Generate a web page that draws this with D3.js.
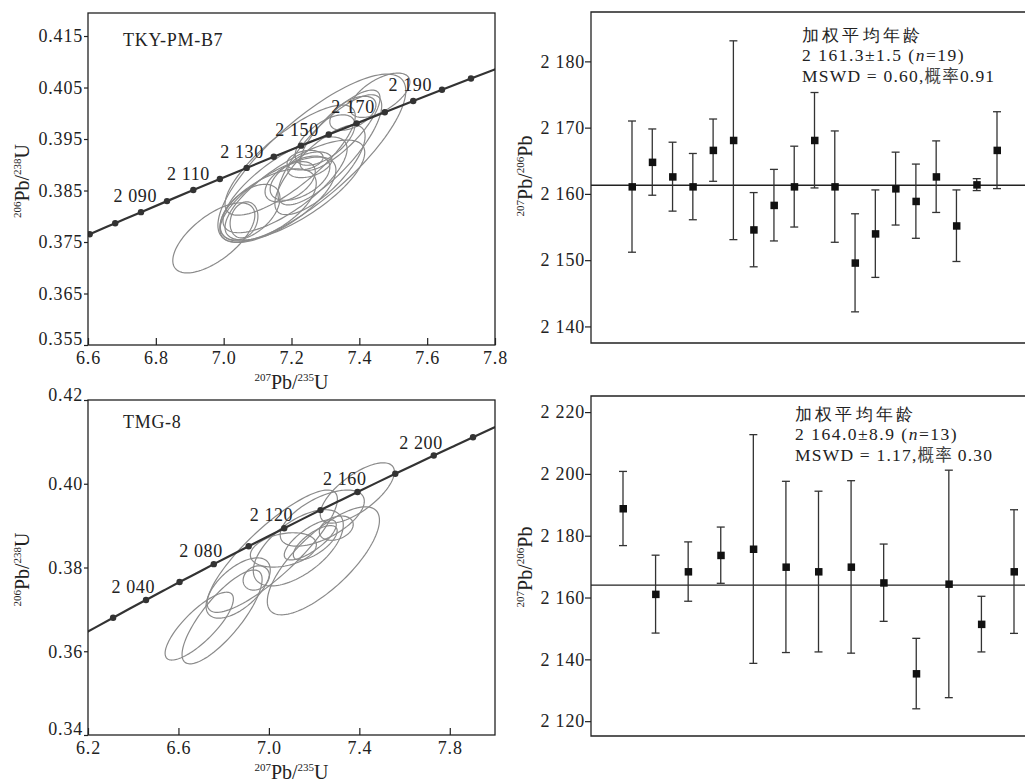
<!DOCTYPE html>
<html lang="en">
<head>
<meta charset="UTF-8"/>
<title>U-Pb concordia and weighted mean ages</title>
<script src="https://d3js.org/d3.v7.min.js"></script>
<style>
  body { margin: 0; background: #fff; }
  text { font-family: "Liberation Serif", "Times New Roman", serif; fill: #222; }
</style>
</head>
<body>
<div id="chart"></div>
<script>
// ---- concordia reference curve (age in Ma, 207Pb/235U, 206Pb/238U)
const concAge = [2000, 2010, 2020, 2030, 2040, 2050, 2060, 2070, 2080, 2090, 2100, 2110, 2120,
                 2130, 2140, 2150, 2160, 2170, 2180, 2190, 2200, 2210, 2220, 2230, 2240];
const concX = [6.1685, 6.2395, 6.3111, 6.3835, 6.4566, 6.5304, 6.6049, 6.6802, 6.7562, 6.8329,
               6.9105, 6.9888, 7.0678, 7.1477, 7.2283, 7.3098, 7.3920, 7.4751, 7.5589, 7.6437,
               7.7292, 7.8156, 7.9028, 7.9910, 8.0799];
const concY = [0.36377, 0.36588, 0.36800, 0.37013, 0.37225, 0.37438, 0.37652, 0.37865, 0.38080, 0.38294,
               0.38509, 0.38724, 0.38939, 0.39155, 0.39371, 0.39587, 0.39804, 0.40021, 0.40238, 0.40456,
               0.40674, 0.40892, 0.41111, 0.41330, 0.41549];

// ---- sample TKY-PM-B7 : error ellipses (centre, half widths, correlation)
const b7Cx  = [6.971, 7.260, 7.160, 7.060, 7.131, 7.181, 7.225, 7.254, 7.240, 7.196,
               7.284, 7.381, 7.461, 7.343, 7.313, 7.210, 7.078, 7.196, 7.299];
const b7Cy  = [0.3758, 0.3913, 0.3832, 0.3793, 0.3822, 0.3861, 0.3874, 0.3900, 0.3909, 0.3867,
               0.3890, 0.4000, 0.4035, 0.3967, 0.3929, 0.3851, 0.3808, 0.3909, 0.3948];
const b7Sx  = [0.121, 0.277, 0.171, 0.041, 0.142, 0.183, 0.088, 0.065, 0.053, 0.074,
               0.133, 0.068, 0.088, 0.118, 0.153, 0.206, 0.088, 0.192, 0.088];
const b7Sy  = [0.0068, 0.0163, 0.0083, 0.0035, 0.0070, 0.0093, 0.0043, 0.0025, 0.0019, 0.0039,
               0.0087, 0.0033, 0.0043, 0.0078, 0.0107, 0.0097, 0.0054, 0.0107, 0.0049];
const b7Rho = [0.65, 0.80, 0.70, 0.20, 0.60, 0.75, 0.50, 0.40, 0.30, 0.50,
               0.75, 0.50, 0.60, 0.80, 0.80, 0.75, 0.50, 0.80, 0.60];

// ---- sample TMG-8 : error ellipses
const t8Cx  = [6.692, 6.793, 6.864, 7.015, 6.944, 7.064, 7.130, 7.241, 7.205, 7.298, 7.391, 7.236, 7.183];
const t8Cy  = [0.3660, 0.3682, 0.3751, 0.3839, 0.3775, 0.3842, 0.3847, 0.3816, 0.3859, 0.3894, 0.3978, 0.3918, 0.3866];
const t8Sx  = [0.151, 0.177, 0.142, 0.288, 0.058, 0.146, 0.199, 0.248, 0.097, 0.075, 0.164, 0.186, 0.115];
const t8Sy  = [0.0081, 0.0112, 0.0072, 0.0146, 0.0029, 0.0041, 0.0091, 0.0129, 0.0041, 0.0029, 0.0072, 0.0067, 0.0048];
const t8Rho = [0.80, 0.80, 0.60, 0.85, 0.20, 0.30, 0.60, 0.75, 0.70, 0.30, 0.70, 0.60, 0.75];

// ---- 207Pb/206Pb ages (Ma) with 1 sigma errors
const b7Age = [2161.1, 2164.8, 2162.6, 2161.1, 2166.6, 2168.1, 2154.6, 2158.3, 2161.1, 2168.1,
               2161.1, 2149.6, 2154.0, 2160.8, 2158.9, 2162.6, 2155.2, 2161.4, 2166.6];
const b7Err = [9.9, 5.0, 5.2, 5.0, 4.7, 15.0, 5.6, 5.4, 6.1, 7.2,
               8.4, 7.4, 6.6, 5.5, 5.6, 5.4, 5.4, 0.9, 5.8];
const t8Age = [2188.8, 2161.1, 2168.4, 2173.7, 2175.7, 2169.9, 2168.4, 2169.9, 2164.8, 2135.4, 2164.4, 2151.4, 2168.4];
const t8Err = [12.0, 12.6, 9.6, 9.1, 37.0, 27.7, 26.0, 27.9, 12.5, 11.4, 36.8, 9.0, 20.0];

const b7Mean = 2161.3, t8Mean = 2164.0;
const b7Text = ["加权平均年龄", "2 161.3±1.5  (", "=19)", "MSWD = 0.60,", "概率", "0.91"];
const t8Text = ["加权平均年龄", "2 164.0±8.9  (", "=13)", "MSWD = 1.17,", "概率 ", "0.30"];

const serif = '"Liberation Serif", "Times New Roman", serif';
const cjk = '"Noto Sans CJK SC", sans-serif';

const svg = d3.select("#chart").append("svg")
  .attr("width", 1025).attr("height", 782)
  .style("background", "#fff");

// isotope ratio label with superscripts
function isoText(sel, parts, big, small) {
  sel.attr("font-size", big);
  let up = false;
  parts.forEach(p => {
    const t = sel.append("tspan").text(p[0]);
    if (p[1]) {
      t.attr("font-size", small);
      if (!up) t.attr("dy", -big * 0.38);
      up = true;
    } else {
      if (up) t.attr("dy", big * 0.38);
      up = false;
    }
  });
}

function styleAxis(g) {
  g.attr("font-size", 18).attr("font-family", serif).attr("color", "#222");
  g.select(".domain").remove();
  g.selectAll(".tick line").attr("stroke-width", 1.2);
  g.selectAll(".tick text").attr("letter-spacing", "0.8px").attr("fill", "#222");
}

function concordiaPanel(o) {
  const x = d3.scaleLinear().domain(o.xDomain).range([o.left, o.right]);
  const y = d3.scaleLinear().domain(o.yDomain).range([o.bottom, o.top]);

  svg.append("clipPath").attr("id", o.id).append("rect")
    .attr("x", o.left).attr("y", o.top)
    .attr("width", o.right - o.left).attr("height", o.bottom - o.top);
  const plot = svg.append("g").attr("clip-path", `url(#${o.id})`);

  // ellipses
  const ell = o.cx.map((c, i) => ({cx: c, cy: o.cy[i], sx: o.sx[i], sy: o.sy[i], r: o.rho[i]}));
  const line = d3.line().curve(d3.curveLinearClosed);
  plot.selectAll("path.ell").data(ell).join("path")
    .attr("class", "ell")
    .attr("fill", "none").attr("stroke", "#8a8a8a").attr("stroke-width", 1.2)
    .attr("d", e => line(d3.range(0, 360, 3).map(a => {
      const t = a * Math.PI / 180;
      return [x(e.cx + e.sx * Math.cos(t)),
              y(e.cy + e.sy * (e.r * Math.cos(t) + Math.sqrt(1 - e.r * e.r) * Math.sin(t)))];
    })));

  // concordia
  const pts = concAge.map((a, i) => ({age: a, x: concX[i], y: concY[i]}));
  plot.append("path")
    .attr("fill", "none").attr("stroke", "#333").attr("stroke-width", 2.2)
    .attr("d", d3.line().x(d => x(d.x)).y(d => y(d.y)).curve(d3.curveMonotoneX)(pts));
  plot.selectAll("circle.dot").data(pts.filter(d => o.dotAges.includes(d.age))).join("circle")
    .attr("cx", d => x(d.x)).attr("cy", d => y(d.y)).attr("r", 3.2).attr("fill", "#333");
  svg.selectAll(null).data(pts.filter(d => o.labelAges.includes(d.age))).join("text")
    .attr("x", d => x(d.x) + o.labDx).attr("y", d => y(d.y) + o.labDy)
    .attr("text-anchor", "end").attr("font-size", 18).attr("letter-spacing", "0.6px")
    .text(d => String(d.age).replace(/^(\d)/, "$1 "));

  // frame
  svg.append("rect").attr("x", o.left).attr("y", o.top)
    .attr("width", o.right - o.left).attr("height", o.bottom - o.top)
    .attr("fill", "none").attr("stroke", "#222").attr("stroke-width", 1.3);

  // axes
  const ay = svg.append("g").attr("transform", `translate(${o.left},0)`)
    .call(d3.axisLeft(y).tickValues(o.yTicks).tickSize(4).tickPadding(1).tickFormat(d3.format(o.yFmt)));
  styleAxis(ay);
  const yt = ay.selectAll(".tick text");
  yt.filter(d => d === o.yTicks[0]).attr("dy", "-0.05em");
  yt.filter(d => d === o.yTicks[o.yTicks.length - 1] && o.yTicks[o.yTicks.length - 1] === o.yDomain[1]).attr("dy", "0.05em");

  const ax = svg.append("g").attr("transform", `translate(0,${o.bottom})`)
    .call(d3.axisBottom(x).tickValues(o.xTicks).tickSizeInner(-7).tickSizeOuter(0).tickPadding(6).tickFormat(d3.format(".1f")));
  styleAxis(ax);

  // axis titles
  isoText(svg.append("text").attr("x", (o.left + o.right) / 2).attr("y", o.bottom + 44)
    .attr("text-anchor", "middle"), [["207", 1], ["Pb/", 0], ["235", 1], ["U", 0]], 20, 11);
  isoText(svg.append("text").attr("transform", `translate(29,${(o.top + o.bottom) / 2 + 2}) rotate(-90)`)
    .attr("text-anchor", "middle"), [["206", 1], ["Pb/", 0], ["238", 1], ["U", 0]], 20, 11);

  svg.append("text").attr("x", o.left + 35).attr("y", o.nameY)
    .attr("font-size", 18).attr("letter-spacing", "0.7px").text(o.name);
}

function agePanel(o) {
  const x = d3.scaleLinear().domain([1, o.age.length]).range([o.firstX, o.lastX]);
  const y = d3.scaleLinear().domain(o.yDomain).range([o.bottom, o.top]);
  const pts = o.age.map((a, i) => ({i: i + 1, a: a, e: o.err[i]}));

  // frame: open on the right
  svg.append("path").attr("fill", "none").attr("stroke", "#222").attr("stroke-width", 1.3)
    .attr("d", `M1025,${o.top}H${o.left}V${o.bottom}H1025`);

  // mean
  svg.append("line").attr("x1", o.left).attr("x2", 1025)
    .attr("y1", y(o.mean)).attr("y2", y(o.mean))
    .attr("stroke", "#222").attr("stroke-width", 1.4);

  const bars = svg.append("g").attr("stroke", "#333").attr("stroke-width", 1.3);
  bars.selectAll("line.v").data(pts).join("line")
    .attr("x1", d => x(d.i)).attr("x2", d => x(d.i))
    .attr("y1", d => y(d.a - d.e)).attr("y2", d => y(d.a + d.e));
  bars.selectAll("line.t").data(pts).join("line")
    .attr("x1", d => x(d.i) - 4).attr("x2", d => x(d.i) + 4)
    .attr("y1", d => y(d.a + d.e)).attr("y2", d => y(d.a + d.e));
  bars.selectAll("line.b").data(pts).join("line")
    .attr("x1", d => x(d.i) - 4).attr("x2", d => x(d.i) + 4)
    .attr("y1", d => y(d.a - d.e)).attr("y2", d => y(d.a - d.e));
  svg.append("g").selectAll("rect").data(pts).join("rect")
    .attr("x", d => x(d.i) - 3.5).attr("y", d => y(d.a) - 3.5)
    .attr("width", 7.5).attr("height", 7.5).attr("fill", "#111");

  const ay = svg.append("g").attr("transform", `translate(${o.left},0)`)
    .call(d3.axisLeft(y).tickValues(o.yTicks).tickSize(6).tickPadding(0)
      .tickFormat(d => String(d).replace(/^(\d)/, "$1 ")));
  styleAxis(ay);

  isoText(svg.append("text").attr("transform", `translate(532,${o.titleY}) rotate(-90)`)
    .attr("text-anchor", "middle"), [["207", 1], ["Pb/", 0], ["206", 1], ["Pb", 0]], 20, 11);

  // weighted mean note
  const tx = svg.append("g");
  tx.append("text").attr("x", o.textX).attr("y", o.textY)
    .attr("font-family", cjk).attr("font-size", 17).attr("letter-spacing", "3.2px")
    .attr("fill", "#444").text(o.text[0]);
  const l2 = tx.append("text").attr("x", o.textX).attr("y", o.textY + 20)
    .attr("font-size", 17.5).attr("letter-spacing", "1.5px").attr("fill", "#333");
  l2.append("tspan").text(o.text[1]);
  l2.append("tspan").attr("font-style", "italic").text("n");
  l2.append("tspan").text(o.text[2]);
  const l3 = tx.append("text").attr("x", o.textX).attr("y", o.textY + 41)
    .attr("font-size", 17.5).attr("letter-spacing", "1.2px").attr("fill", "#333");
  l3.append("tspan").text(o.text[3]);
  l3.append("tspan").attr("font-family", cjk).attr("font-size", 16.5).attr("fill", "#444").text(o.text[4]);
  l3.append("tspan").text(o.text[5]);
}

concordiaPanel({
  id: "clipB7", left: 88, right: 495, top: 13, bottom: 345,
  xDomain: [6.6, 7.8], yDomain: [0.355, 0.41947],
  xTicks: [6.6, 6.8, 7.0, 7.2, 7.4, 7.6, 7.8],
  yTicks: [0.355, 0.365, 0.375, 0.385, 0.395, 0.405, 0.415], yFmt: ".3f",
  cx: b7Cx, cy: b7Cy, sx: b7Sx, sy: b7Sy, rho: b7Rho,
  dotAges: [2060, 2070, 2080, 2090, 2100, 2110, 2120, 2130, 2140, 2150, 2160, 2170, 2180, 2190, 2200],
  labelAges: [2090, 2110, 2130, 2150, 2170, 2190], labDx: -10, labDy: 1,
  name: "TKY-PM-B7", nameY: 46
});

concordiaPanel({
  id: "clipT8", left: 88, right: 495, top: 400, bottom: 735,
  xDomain: [6.2, 8.0], yDomain: [0.34, 0.42],
  xTicks: [6.2, 6.6, 7.0, 7.4, 7.8],
  yTicks: [0.34, 0.36, 0.38, 0.40, 0.42], yFmt: ".2f",
  cx: t8Cx, cy: t8Cy, sx: t8Sx, sy: t8Sy, rho: t8Rho,
  dotAges: [2020, 2040, 2060, 2080, 2100, 2120, 2140, 2160, 2180, 2200, 2220],
  labelAges: [2040, 2080, 2120, 2160, 2200], labDx: 9, labDy: -7,
  name: "TMG-8", nameY: 428
});

agePanel({
  left: 591, top: 12, bottom: 343, yDomain: [2137.5, 2187.45],
  yTicks: [2140, 2150, 2160, 2170, 2180],
  firstX: 632, lastX: 997, age: b7Age, err: b7Err, mean: b7Mean,
  titleY: 176, textX: 802, textY: 41, text: b7Text
});

agePanel({
  left: 591, top: 396, bottom: 736, yDomain: [2115.2, 2225.2],
  yTicks: [2120, 2140, 2160, 2180, 2200, 2220],
  firstX: 623, lastX: 1014, age: t8Age, err: t8Err, mean: t8Mean,
  titleY: 567, textX: 795, textY: 420, text: t8Text
});
</script>
</body>
</html>
